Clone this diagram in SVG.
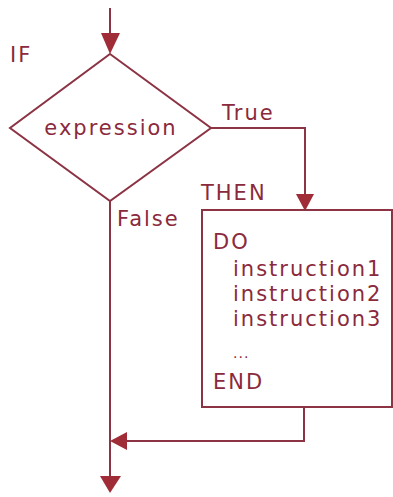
<svg xmlns="http://www.w3.org/2000/svg" width="393" height="497" viewBox="0 0 393 497">
<defs>
<style>
.ln{fill:none;stroke:#8c3344;stroke-width:2}
.sh{fill:#fff;stroke:#8c3344;stroke-width:2}
.ah{fill:#a02c38}
text{font-family:"DejaVu Sans",sans-serif;font-size:21px;fill:#8a2a3c;letter-spacing:2px}
.dots{font-size:14px;letter-spacing:1px}
</style>
</defs>
<rect width="393" height="497" fill="#fff"/>
<g id="connectors">
<line class="ln" x1="110" y1="8" x2="110" y2="40"/>
<polygon class="ah" points="101,33 120,33 110,54"/>
<polyline class="ln" points="211,128 305,128 305,198"/>
<polygon class="ah" points="296,194 314,194 305,211"/>
<line class="ln" x1="110" y1="201" x2="110" y2="480"/>
<polyline class="ln" points="304,407 304,441 122,441"/>
<polygon class="ah" points="110,441 127,432 127,450"/>
<polygon class="ah" points="100,476 121,476 110,493"/>
</g>
<g id="decision">
<polygon class="sh" points="110,54 211,128 110,201 10,128"/>
<text x="111" y="135" text-anchor="middle">expression</text>
</g>
<g id="then-block">
<rect class="sh" x="202" y="210" width="190" height="197"/>
<text x="213" y="249">DO</text>
<text x="233" y="276">instruction1</text>
<text x="233" y="301">instruction2</text>
<text x="233" y="326">instruction3</text>
<text class="dots" x="233" y="358">...</text>
<text x="213" y="389">END</text>
</g>
<g id="labels">
<text x="10" y="62">IF</text>
<text x="222" y="120">True</text>
<text x="201" y="200">THEN</text>
<text x="117" y="226">False</text>
</g>
</svg>
